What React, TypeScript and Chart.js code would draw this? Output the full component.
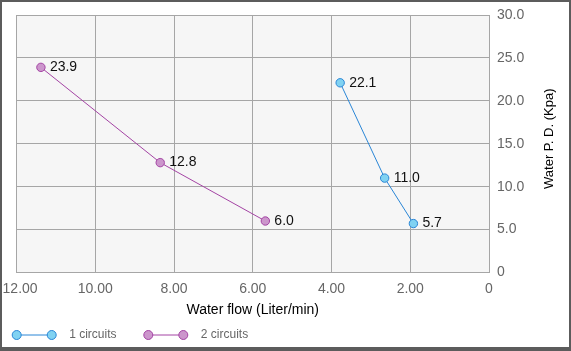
import React, { useEffect, useRef } from "react";
import { Chart, registerables } from "chart.js";

Chart.register(...registerables);

const seriesNames = ["1 circuits", "2 circuits"];
const flow1 = [3.78, 2.65, 1.92];
const pd1 = [22.1, 11.0, 5.7];
const flow2 = [11.38, 8.35, 5.68];
const pd2 = [23.9, 12.8, 6.0];
const xTitle = "Water flow (Liter/min)";
const yTitle = "Water P. D. (Kpa)";

const FONT = "'Liberation Sans', Arial, sans-serif";
const lineColors = ["#2a86d6", "#a444a4"];
const fillColors = ["#80d2f2", "#cc96cc"];

const bgPlugin = {
  id: "bg",
  beforeDraw(chart: any) {
    const { ctx, chartArea } = chart;
    ctx.save();
    ctx.fillStyle = "#f6f6f6";
    ctx.fillRect(chartArea.left, chartArea.top, chartArea.right - chartArea.left, chartArea.bottom - chartArea.top);
    ctx.restore();
    const xs = chart.scales.x;
    const items = xs.getLabelItems(chart.chartArea);
    if (items && items.length && !(items as any)._shifted) {
      // first label ("12.00") sits slightly right of its grid line
      items.forEach((it: any) => {
        if (it.label === "12.00") it.options.translation[0] += 3.6;
      });
      (items as any)._shifted = true;
    }
  },
};

const labelPlugin = {
  id: "valueLabels",
  afterDatasetsDraw(chart: any) {
    const { ctx } = chart;
    ctx.save();
    ctx.font = `14px ${FONT}`;
    ctx.fillStyle = "#111";
    ctx.textAlign = "left";
    ctx.textBaseline = "middle";
    chart.data.datasets.forEach((ds: any, di: number) => {
      const meta = chart.getDatasetMeta(di);
      meta.data.forEach((pt: any, i: number) => {
        ctx.fillText(ds.data[i].y.toFixed(1), pt.x + 9, pt.y);
      });
    });
    ctx.restore();
  },
};

const titleLegendPlugin = {
  id: "titleLegend",
  afterDraw(chart: any) {
    const { ctx } = chart;
    ctx.save();
    // y-axis title, reading bottom-to-top
    const ca = chart.chartArea;
    ctx.translate(547, (ca.top + ca.bottom) / 2 - 5);
    ctx.rotate(-Math.PI / 2);
    ctx.font = `13px ${FONT}`;
    ctx.fillStyle = "#000";
    ctx.textAlign = "center";
    ctx.textBaseline = "middle";
    ctx.fillText(yTitle, 0, 0);
    ctx.restore();

    // legend
    const y = 333;
    const starts = [14.7, 146.3];
    chart.data.datasets.forEach((ds: any, i: number) => {
      const x0 = starts[i];
      const x1 = x0 + 35;
      ctx.save();
      ctx.strokeStyle = ds.borderColor;
      ctx.lineWidth = 1;
      ctx.beginPath();
      ctx.moveTo(x0, y);
      ctx.lineTo(x1, y);
      ctx.stroke();
      [x0, x1].forEach((cx) => {
        ctx.beginPath();
        ctx.arc(cx, y, 4.5, 0, Math.PI * 2);
        ctx.fillStyle = ds.pointBackgroundColor;
        ctx.fill();
        ctx.strokeStyle = ds.borderColor;
        ctx.stroke();
      });
      ctx.font = `12px ${FONT}`;
      ctx.fillStyle = "#666";
      ctx.textAlign = "left";
      ctx.textBaseline = "middle";
      ctx.fillText(ds.label, x1 + 17.5, y);
      ctx.restore();
    });
  },
};

export default function App() {
  const ref = useRef<HTMLCanvasElement | null>(null);
  useEffect(() => {
    if (!ref.current) return;
    Chart.defaults.font.family = FONT;
    const mk = (xs: number[], ys: number[]) => xs.map((x, i) => ({ x, y: ys[i] }));
    const chart = new Chart(ref.current, {
      type: "line",
      data: {
        datasets: [
          {
            label: seriesNames[0],
            data: mk(flow1, pd1),
            borderColor: lineColors[0],
            backgroundColor: fillColors[0],
            pointBackgroundColor: fillColors[0],
            pointBorderColor: lineColors[0],
            borderWidth: 1,
            pointRadius: 4.2,
            pointBorderWidth: 1,
          },
          {
            label: seriesNames[1],
            data: mk(flow2, pd2),
            borderColor: lineColors[1],
            backgroundColor: fillColors[1],
            pointBackgroundColor: fillColors[1],
            pointBorderColor: lineColors[1],
            borderWidth: 1,
            pointRadius: 4.2,
            pointBorderWidth: 1,
          },
        ],
      },
      options: {
        responsive: false,
        animation: false,
        layout: { padding: { left: 14.5, top: 13, right: 0, bottom: 22 } },
        plugins: { legend: { display: false }, tooltip: { enabled: false } },
        scales: {
          x: {
            type: "linear",
            position: "bottom",
            reverse: true,
            min: 0,
            max: 12,
            ticks: {
              stepSize: 2,
              color: "#666",
              padding: 8,
              font: { size: 14 },
              callback: (v: any) => (Number(v) === 0 ? "0" : Number(v).toFixed(2)),
            },
            grid: { color: "#a6a6a6", drawTicks: false },
            border: { color: "#a6a6a6" },
            title: { display: true, text: xTitle, color: "#000", font: { size: 14 }, padding: { top: 4, bottom: 6 } },
            afterFit: (s: any) => {
              s.paddingLeft = 0;
              s.paddingRight = 0;
              s.height = 52.5;
            },
          },
          y: {
            type: "linear",
            position: "right",
            min: 0,
            max: 30,
            ticks: {
              stepSize: 5,
              color: "#666",
              padding: 8,
              font: { size: 14 },
              callback: (v: any) => (Number(v) === 0 ? "0" : Number(v).toFixed(1)),
            },
            grid: { color: "#a6a6a6", drawTicks: false },
            border: { color: "#a6a6a6" },
            afterFit: (s: any) => {
              s.paddingTop = 0;
              s.paddingBottom = 0;
              s.width = 80;
            },
          },
        },
      },
      plugins: [bgPlugin, labelPlugin, titleLegendPlugin],
    } as any);
    return () => chart.destroy();
  }, []);
  return (
    <div
      style={{
        position: "fixed",
        left: 0,
        top: 0,
        width: 571,
        height: 351,
        boxSizing: "border-box",
        border: "2px solid #5c5c5c",
        borderBottomWidth: 4,
        background: "#fff",
      }}
    >
      <canvas ref={ref} width={567} height={345} style={{ display: "block" }} />
    </div>
  );
}
